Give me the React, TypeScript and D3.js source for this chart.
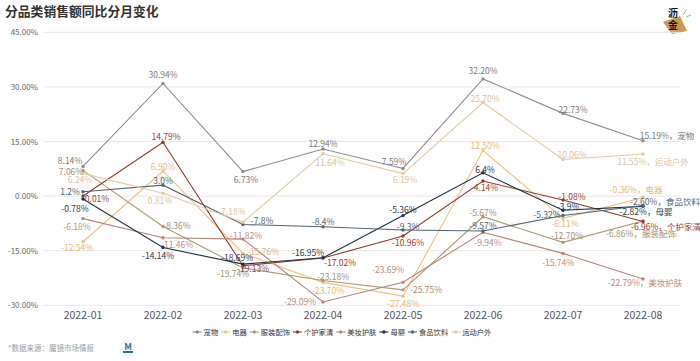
import React from 'react';
import * as d3 from 'd3';

const months = ['2022-01', '2022-02', '2022-03', '2022-04', '2022-05', '2022-06', '2022-07', '2022-08'];
const yTicks = [45, 30, 15, 0, -15, -30];

const seriesNames = ['宠物', '电器', '服装配饰', '个护家清', '美妆护肤', '母婴', '食品饮料', '运动户外'];
const seriesColors = ['#8c8c8c', '#f0c080', '#ad9a70', '#8e3b2e', '#b5847a', '#1f3140', '#51656f', '#e3cba5'];
const labelColors = ['#7a7a7a', '#e8b878', '#a09070', '#9a4034', '#b88c86', '#2a3a48', '#51656f', '#dcc3a0'];

// displayed values (as printed on the chart)
const pet = ['8.14', '30.94', '6.73', '12.94', '7.59', '32.20', '22.73', '15.19'];
const appliance = ['-12.54', '6.90', '-15.76', '-23.70', '-27.48', '12.50', '-6.11', '-0.36'];
const apparel = ['7.06', '-8.36', '-19.74', '-23.18', '-25.75', '-5.67', '-12.70', '-6.86'];
const homecare = ['0.01', '14.79', '-19.13', '-17.02', '-10.96', '4.14', '-1.08', '-6.96'];
const beauty = ['-6.18', '-11.46', '-11.82', '-29.09', '-23.69', '-9.94', '-15.74', '-22.79'];
const baby = ['-0.78', '-14.14', '-18.69', '-16.95', '-5.36', '6.4', '-3.9', '-2.82'];
const food = ['1.2', '3.0', '-7.8', '-8.4', '-9.3', '-9.57', '-5.32', '-2.60'];
const outdoor = ['6.24', '0.81', '-7.18', '11.64', '6.19', '25.70', '10.06', '11.55'];

const seriesValues = [pet, appliance, apparel, homecare, beauty, baby, food, outdoor];

// label offsets relative to each point [dx, dy]
const petLbl = [[-13, -5], [0, -8], [3, 8], [0, -5], [-9, -6], [0, -8], [10, -3], [24, -5]];
const applianceLbl = [[-6, 6], [0, -4], [20, -1], [5, 9], [0, 8], [2, -5], [2, 6], [-7, -7]];
const apparelLbl = [[-12, 2], [14, -1], [-10, 6], [10, -3], [23, 0], [0, -4], [4, -6], [-2, 13]];
const homecareLbl = [[14, 3], [3, -5], [10, 3], [17, 5], [5, 7], [3, 7], [9, -3], [23, 6]];
const beautyLbl = [[-6, 8], [14, 7], [3, -3], [-23, 0], [-15, -12], [5, 11], [-5, 10], [2, 4]];
const babyLbl = [[-8, 10], [-5, 8], [-6, -6], [-15, -5], [0, -6], [2, -3], [5, -3], [3, 6]];
const foodLbl = [[-13, 0], [0, -4], [19, -3], [0, -5], [5, -3], [0, -5], [-16, 0], [22, -4]];
const outdoorLbl = [[-3, 7], [-3, 8], [-11, -10], [7, 9], [2, 6], [2, -4], [9, -4], [10, 8]];
const labelOffsets = [petLbl, applianceLbl, apparelLbl, homecareLbl, beautyLbl, babyLbl, foodLbl, outdoorLbl];

const W = 700;
const H = 361;
const FONT = '"Noto Sans CJK SC", "Noto Sans", sans-serif';

export default function App() {
  const x = d3.scaleBand<string>().domain(months).range([43, 683]);
  const y = d3.scaleLinear().domain([-30, 45]).range([305.3, 32.3]);
  const cx = (m: string) => (x(m) as number) + x.bandwidth() / 2;
  const line = d3
    .line<string>()
    .x((_, i) => cx(months[i]))
    .y((v) => y(parseFloat(v)));

  // legend layout
  const charW = 7.3;
  const legendItems = seriesNames.map((n) => ({ n, w: 9 + 2 + n.length * charW }));
  const gap = 3;
  const totalW = d3.sum(legendItems, (d) => d.w) + gap * (legendItems.length - 1);
  let lx = 342 - totalW / 2;
  const legendPos = legendItems.map((d) => {
    const p = lx;
    lx += d.w + gap;
    return p;
  });

  return (
    <svg
      width={W}
      height={H}
      style={{ position: 'absolute', left: 0, top: 0, background: '#fff', fontFamily: FONT }}
    >
      <rect x={0} y={0} width={W} height={H} fill="#fff" />
      <text x={5} y={16} fontSize={12.8} fontWeight="bold" fill="#333">
        分品类销售额同比分月变化
      </text>

      {/* logo */}
      <g>
        <polygon points="663,22 680,16 687,31 672,34" fill="#c99a55" />
        <line x1={683} y1={15} x2={687} y2={9} stroke="#999" strokeWidth={0.8} />
        <line x1={686} y1={17} x2={691} y2={15} stroke="#999" strokeWidth={0.8} />
        <text x={673} y={17} fontSize={10} fontWeight="bold" fill="#111" textAnchor="middle">沥</text>
        <text x={673} y={29} fontSize={10} fontWeight="bold" fill="#111" textAnchor="middle">金</text>
      </g>

      {/* grid + y axis */}
      {yTicks.map((t) => (
        <g key={t}>
          <line x1={43} x2={680} y1={y(t)} y2={y(t)} stroke="#e8e8e8" strokeWidth={1} />
          <text x={38} y={y(t) + 3} fontSize={8} fill="#666" textAnchor="end">
            {t.toFixed(2) + '%'}
          </text>
        </g>
      ))}

      {/* x axis labels */}
      {months.map((m) => (
        <text key={m} x={cx(m)} y={319} fontSize={10.5} fill="#555" textAnchor="middle">
          {m}
        </text>
      ))}

      {/* lines */}
      {seriesValues.map((vals, si) => (
        <path key={si} d={line(vals) || ''} fill="none" stroke={seriesColors[si]} strokeWidth={1.1} />
      ))}

      {/* markers */}
      {seriesValues.map((vals, si) =>
        vals.map((v, i) => (
          <circle key={si + '-' + i} cx={cx(months[i])} cy={y(parseFloat(v))} r={1.7} fill={seriesColors[si]} />
        ))
      )}

      {/* labels */}
      {seriesValues.map((vals, si) =>
        vals.map((v, i) => {
          const [dx, dy] = labelOffsets[si][i];
          const last = i === vals.length - 1;
          const txt = last ? `${v}%，${seriesNames[si]}` : `${v}%`;
          return (
            <text
              key={'l' + si + '-' + i}
              x={cx(months[i]) + dx}
              y={y(parseFloat(v)) + dy + 3}
              fontSize={8.5}
              fill={labelColors[si]}
              textAnchor="middle"
            >
              {txt}
            </text>
          );
        })
      )}

      {/* legend */}
      {legendItems.map((d, i) => (
        <g key={d.n} transform={`translate(${legendPos[i]},332)`}>
          <line x1={0} x2={9} y1={0} y2={0} stroke={seriesColors[i]} strokeWidth={1.1} />
          <circle cx={4.5} cy={0} r={1.7} fill={seriesColors[i]} />
          <text x={11} y={2.8} fontSize={charW} fill="#333">
            {d.n}
          </text>
        </g>
      ))}

      {/* source */}
      <text x={8} y={351} fontSize={7.5} fill="#999">
        *数据来源：魔镜市场情报
      </text>
      <g transform="translate(124,343)">
        <text x={4} y={7} fontSize={9} fontWeight="bold" fill="#2a6fb0" textAnchor="middle">M</text>
        <rect x={-1} y={8} width={10} height={2} fill="#2a6fb0" />
      </g>
    </svg>
  );
}
